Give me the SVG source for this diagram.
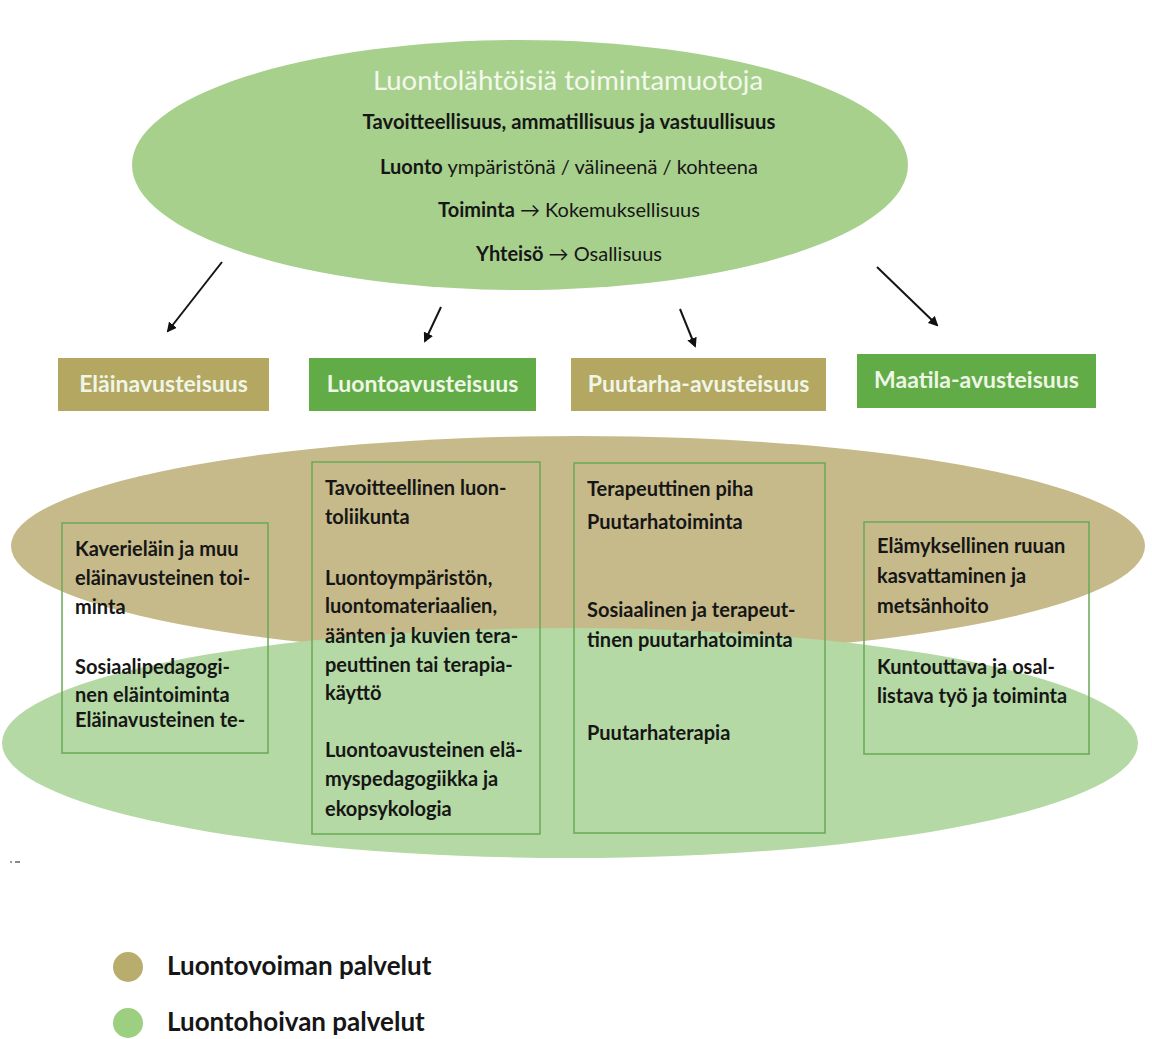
<svg xmlns="http://www.w3.org/2000/svg" width="1152" height="1039" viewBox="0 0 1152 1039">
  <defs>
    <marker id="arrowhead" viewBox="0 0 10 10" refX="8" refY="5" markerWidth="5" markerHeight="5" orient="auto" markerUnits="strokeWidth">
      <path d="M0,0 L10,5 L0,10 z" fill="#111"/>
    </marker>
    <style>
      .txt { font-family: Lato, "Open Sans", "Liberation Sans", sans-serif; fill: #161616; }
      .b { font-weight: bold; }
      .item { font-family: Lato, "Open Sans", "Liberation Sans", sans-serif; font-weight: bold; font-size: 20px; fill: #161616; }
      .head { font-family: Lato, "Open Sans", "Liberation Sans", sans-serif; font-weight: bold; font-size: 23px; fill: #eff6e6; text-anchor: middle; }
      .tan { fill: #b3a762; }
      .grn { fill: #61ac46; }
      .frame { fill: none; stroke: #68a955; stroke-width: 1.5; }
      .conn { stroke: #151515; stroke-width: 2; fill: none; marker-end: url(#arrowhead); }
    </style>
  </defs>
  <rect width="1152" height="1039" fill="#ffffff"/>

  <!-- background service areas -->
  <g id="areas">
    <ellipse id="area-voima" cx="578" cy="546" rx="567" ry="110" fill="#c6ba8a"/>
    <ellipse id="area-hoiva" cx="570" cy="743" rx="568" ry="115" fill="#b5d9a4"/>
  </g>

  <!-- top node -->
  <g id="node-top">
    <ellipse cx="520" cy="165" rx="388" ry="125" fill="#a8d08d"/>
    <text x="568" y="90" text-anchor="middle" class="txt" font-size="27.5" style="fill:#f3f8ec">Luontolähtöisiä toimintamuotoja</text>
    <text x="569" y="129" text-anchor="middle" class="txt b" font-size="20.3">Tavoitteellisuus, ammatillisuus ja vastuullisuus</text>
    <text x="569" y="174" text-anchor="middle" class="txt" font-size="20"><tspan class="b">Luonto</tspan> ympäristönä / välineenä / kohteena</text>
    <text x="569" y="217" text-anchor="middle" class="txt" font-size="20"><tspan class="b">Toiminta</tspan> → Kokemuksellisuus</text>
    <text x="569" y="261" text-anchor="middle" class="txt" font-size="20"><tspan class="b">Yhteisö</tspan> → Osallisuus</text>
  </g>

  <!-- connectors -->
  <g id="connectors">
    <line class="conn" x1="222" y1="262" x2="168" y2="331"/>
    <line class="conn" x1="441" y1="307" x2="425" y2="341"/>
    <line class="conn" x1="680" y1="309" x2="695" y2="346"/>
    <line class="conn" x1="877" y1="267" x2="937" y2="325"/>
  </g>

  <!-- category headers -->
  <g id="head-elain">
    <rect class="tan" x="58" y="358" width="211" height="53"/>
    <text class="head" x="163.5" y="392">Eläinavusteisuus</text>
  </g>
  <g id="head-luonto">
    <rect class="grn" x="309" y="358" width="227" height="53"/>
    <text class="head" x="422.5" y="392">Luontoavusteisuus</text>
  </g>
  <g id="head-puutarha">
    <rect class="tan" x="571" y="358" width="255" height="53"/>
    <text class="head" x="698.5" y="392">Puutarha-avusteisuus</text>
  </g>
  <g id="head-maatila">
    <rect class="grn" x="857" y="354" width="239" height="54"/>
    <text class="head" x="976.5" y="388">Maatila-avusteisuus</text>
  </g>

  <!-- activity lists -->
  <g id="list-elain">
    <rect class="frame" x="62" y="523" width="206" height="230"/>
    <text class="item" x="75" y="556">Kaverieläin ja muu</text>
    <text class="item" x="75" y="585">eläinavusteinen toi-</text>
    <text class="item" x="75" y="614">minta</text>
    <text class="item" x="75" y="674">Sosiaalipedagogi-</text>
    <text class="item" x="75" y="702">nen eläintoiminta</text>
    <text class="item" x="75" y="727">Eläinavusteinen te-</text>
  </g>
  <g id="list-luonto">
    <rect class="frame" x="312" y="462" width="228" height="372"/>
    <text class="item" x="325" y="495">Tavoitteellinen luon-</text>
    <text class="item" x="325" y="524">toliikunta</text>
    <text class="item" x="325" y="585">Luontoympäristön,</text>
    <text class="item" x="325" y="613">luontomateriaalien,</text>
    <text class="item" x="325" y="643">äänten ja kuvien tera-</text>
    <text class="item" x="325" y="672">peuttinen tai terapia-</text>
    <text class="item" x="325" y="700">käyttö</text>
    <text class="item" x="325" y="757">Luontoavusteinen elä-</text>
    <text class="item" x="325" y="786">myspedagogiikka ja</text>
    <text class="item" x="325" y="816">ekopsykologia</text>
  </g>
  <g id="list-puutarha">
    <rect class="frame" x="574" y="463" width="251" height="370"/>
    <text class="item" x="587" y="496">Terapeuttinen piha</text>
    <text class="item" x="587" y="529">Puutarhatoiminta</text>
    <text class="item" x="587" y="617">Sosiaalinen ja terapeut-</text>
    <text class="item" x="587" y="647">tinen puutarhatoiminta</text>
    <text class="item" x="587" y="740">Puutarhaterapia</text>
  </g>
  <g id="list-maatila">
    <rect class="frame" x="864" y="522" width="225" height="232"/>
    <text class="item" x="877" y="553">Elämyksellinen ruuan</text>
    <text class="item" x="877" y="583">kasvattaminen ja</text>
    <text class="item" x="877" y="613">metsänhoito</text>
    <text class="item" x="877" y="674">Kuntouttava ja osal-</text>
    <text class="item" x="877" y="703">listava työ ja toiminta</text>
  </g>

  <!-- stray mark -->
  <g id="mark">
    <rect x="10" y="861" width="2" height="2" fill="#9a9a9a"/>
    <rect x="15" y="861" width="5" height="2" fill="#8a8a8a"/>
  </g>

  <!-- legend -->
  <g id="legend">
    <circle cx="128" cy="967" r="15" fill="#b8ad6c"/>
    <text class="txt b" x="167" y="975" font-size="26">Luontovoiman palvelut</text>
    <circle cx="128" cy="1023" r="15" fill="#9ccf80"/>
    <text class="txt b" x="167" y="1031" font-size="26">Luontohoivan palvelut</text>
  </g>
</svg>
